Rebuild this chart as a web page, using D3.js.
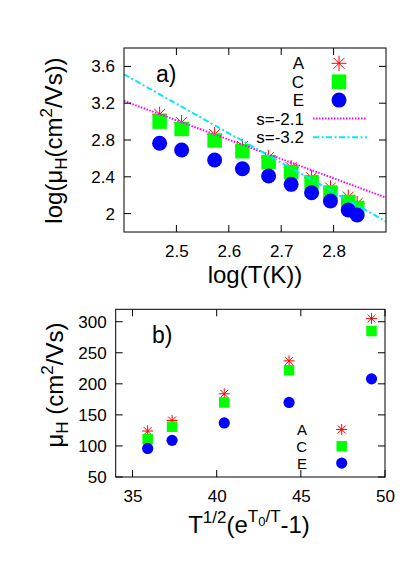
<!DOCTYPE html>
<html><head><meta charset="utf-8">
<script src="https://cdn.jsdelivr.net/npm/d3@7"></script>
<style>body{margin:0;background:#fff}svg{display:block}text{font-family:"Liberation Sans",Arial,sans-serif;fill:#000}</style>
</head><body><svg id="c" width="415" height="581"></svg>
<script>
// ---- Panel a data ----
const logT = [2.468, 2.510, 2.573, 2.626, 2.676, 2.719, 2.758, 2.794, 2.828, 2.845];
const aA = [3.08, 2.99, 2.86, 2.73, 2.61, 2.50, 2.39, 2.28, 2.18, 2.11];
const aC = [3.00, 2.92, 2.795, 2.678, 2.559, 2.45, 2.341, 2.229, 2.126, 2.061];
const aE = [2.764, 2.691, 2.583, 2.487, 2.409, 2.318, 2.227, 2.137, 2.039, 1.985];
const fitS1 = {s: -2.1, x0: 2.4, y0: 3.224};
const fitS2 = {s: -3.2, x0: 2.4, y0: 3.514};
const aXTicks = [2.5, 2.6, 2.7, 2.8];
const aYTicks = [2.0, 2.4, 2.8, 3.2, 3.6];
// ---- Panel b data ----
const bX = [35.9, 37.35, 40.45, 44.3, 49.2];
const bA = [124, 141, 184, 237, 305];
const bC = [111, 131, 170, 222, 285];
const bE = [96, 109, 137, 170, 208];
const bXTicks = [35, 40, 45, 50];
const bYTicks = [50, 100, 150, 200, 250, 300];
const legendNames = ["A", "C", "E"];

const svg = d3.select("#c");
const RED = "#ff0000", GREEN = "#00ff00", BLUE = "#0000ff";

function star(g, x, y, r) {
  const p = d3.path();
  p.moveTo(x - r, y); p.lineTo(x + r, y);
  p.moveTo(x, y - r); p.lineTo(x, y + r);
  const d = r * 0.72;
  p.moveTo(x - d, y - d); p.lineTo(x + d, y + d);
  p.moveTo(x - d, y + d); p.lineTo(x + d, y - d);
  g.append("path").attr("d", p.toString()).attr("stroke", RED).attr("stroke-width", 1).attr("fill", "none");
}
function square(g, x, y, s) {
  g.append("rect").attr("x", x - s / 2).attr("y", y - s / 2).attr("width", s).attr("height", s).attr("fill", GREEN);
}
function circle(g, x, y, r) {
  g.append("circle").attr("cx", x).attr("cy", y).attr("r", r).attr("fill", BLUE);
}

function frame(x, y, xt, yt, tickLen, fs, fmtX, fmtY) {
  const [x0, x1] = x.range(), [y0, y1] = y.range();
  const g = svg.append("g");
  g.append("rect").attr("x", x0).attr("y", y1).attr("width", x1 - x0).attr("height", y0 - y1)
    .attr("fill", "none").attr("stroke", "#000").attr("stroke-width", 1);
  const ax = d3.axisBottom(x).tickValues(xt).tickSize(0).tickPadding(13).tickFormat(fmtX);
  const gx = g.append("g").attr("transform", `translate(0,${y0})`).call(ax);
  gx.select(".domain").remove();
  gx.selectAll("text").attr("font-size", fs).attr("font-family", "Liberation Sans, Arial, sans-serif").attr("dy", "0.71em");
  const ay = d3.axisLeft(y).tickValues(yt).tickSize(0).tickPadding(9).tickFormat(fmtY);
  const gy = g.append("g").attr("transform", `translate(${x0},0)`).call(ay);
  gy.select(".domain").remove();
  gy.selectAll("text").attr("font-size", fs).attr("font-family", "Liberation Sans, Arial, sans-serif");
  xt.forEach(v => {
    g.append("line").attr("x1", x(v)).attr("x2", x(v)).attr("y1", y0).attr("y2", y0 - tickLen).attr("stroke", "#000");
    g.append("line").attr("x1", x(v)).attr("x2", x(v)).attr("y1", y1).attr("y2", y1 + tickLen).attr("stroke", "#000");
  });
  yt.forEach(v => {
    g.append("line").attr("x1", x0).attr("x2", x0 + tickLen).attr("y1", y(v)).attr("y2", y(v)).attr("stroke", "#000");
    g.append("line").attr("x1", x1).attr("x2", x1 - tickLen).attr("y1", y(v)).attr("y2", y(v)).attr("stroke", "#000");
  });
}

// ================= Panel a =================
const xa = d3.scaleLinear().domain([2.4, 2.9]).range([124, 386]);
const ya = d3.scaleLinear().domain([1.8, 3.8]).range([232, 48]);
const ga = svg.append("g");
const clipA = svg.append("clipPath").attr("id", "ca");
clipA.append("rect").attr("x", 124).attr("y", 48).attr("width", 262).attr("height", 184);
logT.forEach((t, i) => star(ga, xa(t), ya(aA[i]), 7.5));
logT.forEach((t, i) => square(ga, xa(t), ya(aC[i]), 14.5));
logT.forEach((t, i) => circle(ga, xa(t), ya(aE[i]), 7.5));
function fitLine(f, color, dash) {
  const xs = xa.domain();
  const pts = xs.map(v => [xa(v), ya(f.y0 + f.s * (v - f.x0))]);
  svg.append("path").attr("clip-path", "url(#ca)").attr("d", d3.line()(pts))
    .attr("stroke", color).attr("stroke-width", 2).attr("fill", "none").attr("stroke-dasharray", dash);
}
fitLine(fitS1, "#ff00ff", "1.5,1.5");
fitLine(fitS2, "#00e8ff", "6,2.5,2,2.5");
frame(xa, ya, aXTicks, aYTicks, 7, 17, d3.format(".1f"), v => v === 2 ? "2" : d3.format(".1f")(v));
svg.append("text").attr("x", 156).attr("y", 82).attr("font-size", 23).text("a)");
legendNames.forEach((n, i) => {
  const cy = 63.3 + i * 18.4;
  svg.append("text").attr("x", 304).attr("y", cy + 6).attr("text-anchor", "end").attr("font-size", 17).text(n);
  if (i === 0) star(svg, 339, cy, 7.5);
  if (i === 1) square(svg, 339, cy, 14.5);
  if (i === 2) circle(svg, 339, cy, 7.5);
});
[[fitS1, "#ff00ff", "1.5,1.5"], [fitS2, "#00e8ff", "6,2.5,2,2.5"]].forEach((d, i) => {
  const cy = 118.5 + i * 18.7;
  svg.append("text").attr("x", 304).attr("y", cy + 6).attr("text-anchor", "end").attr("font-size", 17).text("s=" + d[0].s.toFixed(1));
  svg.append("line").attr("x1", 313).attr("x2", 367).attr("y1", cy).attr("y2", cy)
    .attr("stroke", d[1]).attr("stroke-width", 2).attr("stroke-dasharray", d[2]);
});
svg.append("text").attr("x", 255).attr("y", 283).attr("text-anchor", "middle").attr("font-size", 24).text("log(T(K))");
const tya = svg.append("text").attr("transform", "translate(62,140.5) rotate(-90)").attr("text-anchor", "middle").attr("font-size", 24);
tya.append("tspan").text("log(μ");
tya.append("tspan").attr("font-size", 17).attr("dy", 5).text("H");
tya.append("tspan").attr("dy", -5).text("(cm");
tya.append("tspan").attr("font-size", 17).attr("dy", -10).text("2");
tya.append("tspan").attr("dy", 10).text("/Vs))");

// ================= Panel b =================
const xb = d3.scaleLinear().domain([34, 50]).range([115.7, 385]);
const yb = d3.scaleLinear().domain([50, 320]).range([477, 309.3]);
const gb = svg.append("g");
bX.forEach((t, i) => star(gb, xb(t), yb(bA[i]), 5.5));
bX.forEach((t, i) => square(gb, xb(t), yb(bC[i]), 10.5));
bX.forEach((t, i) => circle(gb, xb(t), yb(bE[i]), 5.6));
frame(xb, yb, bXTicks, bYTicks, 7, 17, d3.format("d"), d3.format("d"));
svg.append("text").attr("x", 152).attr("y", 343).attr("font-size", 23).text("b)");
legendNames.forEach((n, i) => {
  const cy = 429.5 + i * 16.8;
  svg.append("text").attr("x", 307).attr("y", cy + 5.5).attr("text-anchor", "end").attr("font-size", 15).text(n);
  if (i === 0) star(svg, 341.7, cy, 5.5);
  if (i === 1) square(svg, 341.7, cy, 10.5);
  if (i === 2) circle(svg, 341.7, cy, 5.6);
});
const tyb = svg.append("text").attr("transform", "translate(63,385) rotate(-90)").attr("text-anchor", "middle").attr("font-size", 24);
tyb.append("tspan").text("μ");
tyb.append("tspan").attr("font-size", 17).attr("dy", 5).text("H");
tyb.append("tspan").attr("dy", -5).text(" (cm");
tyb.append("tspan").attr("font-size", 17).attr("dy", -10).text("2");
tyb.append("tspan").attr("dy", 10).text("/Vs)");
const txb = svg.append("text").attr("x", 249).attr("y", 533).attr("text-anchor", "middle").attr("font-size", 24);
txb.append("tspan").text("T");
txb.append("tspan").attr("font-size", 17).attr("dy", -10).text("1/2");
txb.append("tspan").attr("dy", 10).text("(e");
txb.append("tspan").attr("font-size", 17).attr("dy", -11).text("T");
txb.append("tspan").attr("font-size", 13).attr("dy", 4).text("0");
txb.append("tspan").attr("font-size", 17).attr("dy", -4).text("/T");
txb.append("tspan").attr("dy", 11).text("-1)");
</script></body></html>
